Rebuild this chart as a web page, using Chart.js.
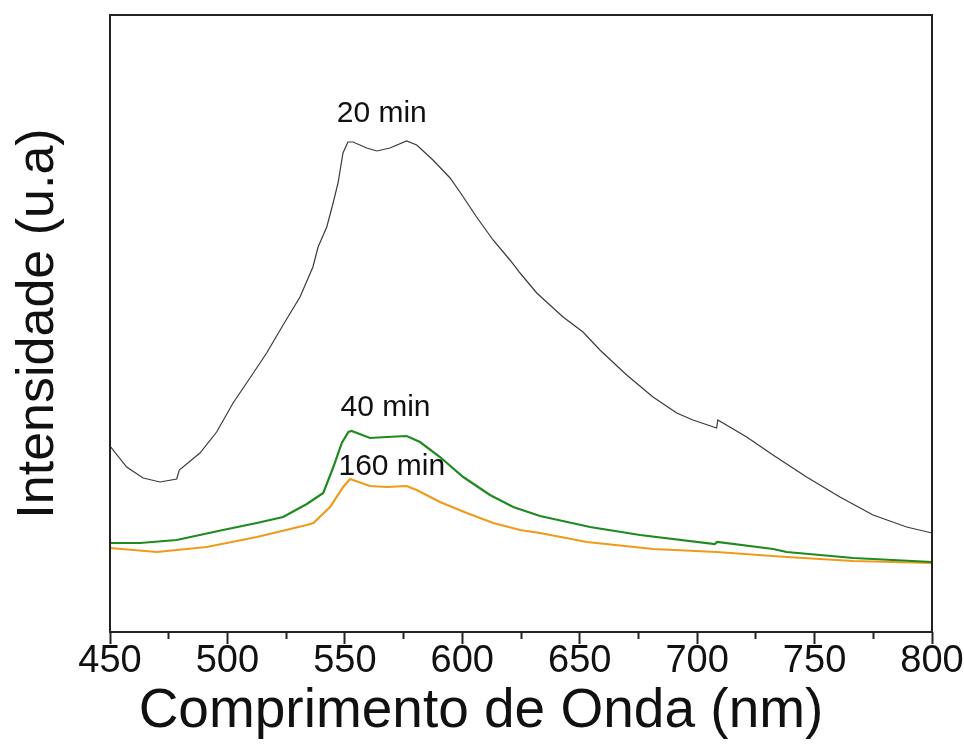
<!DOCTYPE html>
<html>
<head>
<meta charset="utf-8">
<script src="https://cdn.jsdelivr.net/npm/chart.js@4"></script>
<style>
  body { margin: 0; background: #fff; }
  #wrap { width: 964px; height: 747px; }
</style>
</head>
<body>
<div id="wrap"><canvas id="emissionChart"></canvas></div>
<script>
// emission spectra, wavelength (nm) vs intensity (arbitrary units)
const wl20 = [450, 457.1, 464.1, 471.3, 478.4, 479.5, 488.3, 495.4, 502.4, 509.6, 516.7, 523.7, 530.9, 536.4, 538.6, 542.3, 545, 547.1, 549.2, 551.3, 553.5, 559.3, 563.6, 569.2, 576.3, 580.6, 587.5, 594.8, 599, 606.1, 613.1, 620.3, 624.6, 631.7, 642.9, 651.4, 658.6, 670, 681.2, 691.3, 698.2, 708.3, 708.8, 721.1, 732.3, 746.6, 760.8, 774.9, 789.2, 800];
const int20 = [186, 165, 154, 150, 153, 162, 179, 200, 229, 254, 279, 307, 335, 365, 385, 405, 429, 449, 479, 490, 490, 484, 481, 484, 491, 487, 472, 454, 440, 415, 392, 372, 359, 339, 315, 300, 282, 257, 235, 219, 212, 204, 212, 195, 177, 155, 135, 117, 105, 99];

const wl40 = [450, 462.8, 478.4, 498.1, 512.5, 523.7, 533.8, 540.8, 545.1, 548.7, 551.5, 552.9, 560.7, 567.8, 576.3, 582, 590.5, 600.4, 611.8, 621.7, 633.1, 654.4, 675.7, 707.5, 708.5, 732.4, 738.1, 766.5, 800];
const int40 = [89, 89, 92, 102, 109, 115, 128, 139, 165, 189, 200, 201, 194, 195, 196, 190, 175, 155, 137, 125, 116, 105, 97, 88, 90, 83, 80, 74, 70];

const wl160 = [450, 469.9, 491.2, 512.5, 533.8, 536.6, 543.7, 549.3, 552.2, 560.7, 567.8, 576.3, 580.6, 590.5, 601.9, 613.2, 624.6, 633.1, 653, 681.3, 708.3, 738.1, 766.5, 800];
const int160 = [84, 80, 85, 95, 107, 109, 125, 145, 153, 146, 145, 146, 142, 130, 119, 109, 102, 99, 90, 83, 80, 75, 71, 69];

// curve labels, placed in data units
const curveLabels = ["20 min", "40 min", "160 min"];
const labelWl = [565.7, 567.3, 570];
const labelInt = [518, 224.5, 165];

const xTitle = "Comprimento de Onda (nm)";
const FONT = "'Liberation Sans', Arial, sans-serif";

function pairs(xs, ys) {
  return xs.map((x, i) => ({ x: x, y: ys[i] }));
}

const frameAndLabels = {
  id: "frameAndLabels",
  afterDatasetsDraw(chart) {
    const { ctx, chartArea, scales } = chart;
    ctx.save();
    ctx.fillStyle = "#111";
    ctx.font = "30px " + FONT;
    ctx.textAlign = "center";
    ctx.textBaseline = "middle";
    curveLabels.forEach((t, i) => {
      ctx.fillText(t, scales.x.getPixelForValue(labelWl[i]), scales.y.getPixelForValue(labelInt[i]));
    });
    ctx.strokeStyle = "#222";
    ctx.lineWidth = 2;
    ctx.strokeRect(chartArea.left, chartArea.top, chartArea.right - chartArea.left, chartArea.bottom - chartArea.top);

    // axis title sits a little left of the plot centre
    ctx.font = "55px " + FONT;
    ctx.fillText(xTitle, (chartArea.left + chartArea.right) / 2 - 40, chartArea.bottom + 80);
    ctx.restore();
  },
};

new Chart(document.getElementById("emissionChart"), {
  type: "line",
  data: {
    datasets: [
      { data: pairs(wl20, int20), borderColor: "#3a3a3a", borderWidth: 1.2 },
      { data: pairs(wl40, int40), borderColor: "#1f8a1f", borderWidth: 2.2 },
      { data: pairs(wl160, int160), borderColor: "#f09a1c", borderWidth: 2.2 },
    ],
  },
  options: {
    responsive: true,
    maintainAspectRatio: false,
    animation: false,
    events: [],
    elements: { point: { radius: 0 }, line: { tension: 0 } },
    layout: { padding: { top: 15, right: 32, left: 0, bottom: 0 } },
    plugins: { legend: { display: false }, tooltip: { enabled: false } },
    scales: {
      x: {
        type: "linear",
        min: 450,
        max: 800,
        afterFit(scale) {
          scale.height = 115;
          scale.paddingLeft = 0;
          scale.paddingRight = 0;
        },
        ticks: {
          stepSize: 25,
          autoSkip: false,
          maxRotation: 0,
          padding: -1,
          color: "#111",
          font: { family: FONT, size: 38, lineHeight: 1 },
          callback: (v) => (v % 50 === 0 ? v : ""),
        },
        grid: {
          drawOnChartArea: false,
          drawTicks: true,
          tickLength: 12,
          tickWidth: 2,
          tickColor: "#222",
          tickBorderDash: (c) => (c.tick && c.tick.value % 50 !== 0 ? [7, 40] : []),
        },
        border: { display: false },
      },
      y: {
        min: 0,
        max: 617,
        afterFit(scale) {
          scale.width = 110;
        },
        ticks: { display: false },
        grid: { display: false, drawTicks: false },
        border: { display: false },
        title: {
          display: true,
          text: "Intensidade (u.a)",
          color: "#111",
          font: { family: FONT, size: 52, lineHeight: 1.2 },
          padding: { top: 7, bottom: 0 },
        },
      },
    },
  },
  plugins: [frameAndLabels],
});
</script>
</body>
</html>
